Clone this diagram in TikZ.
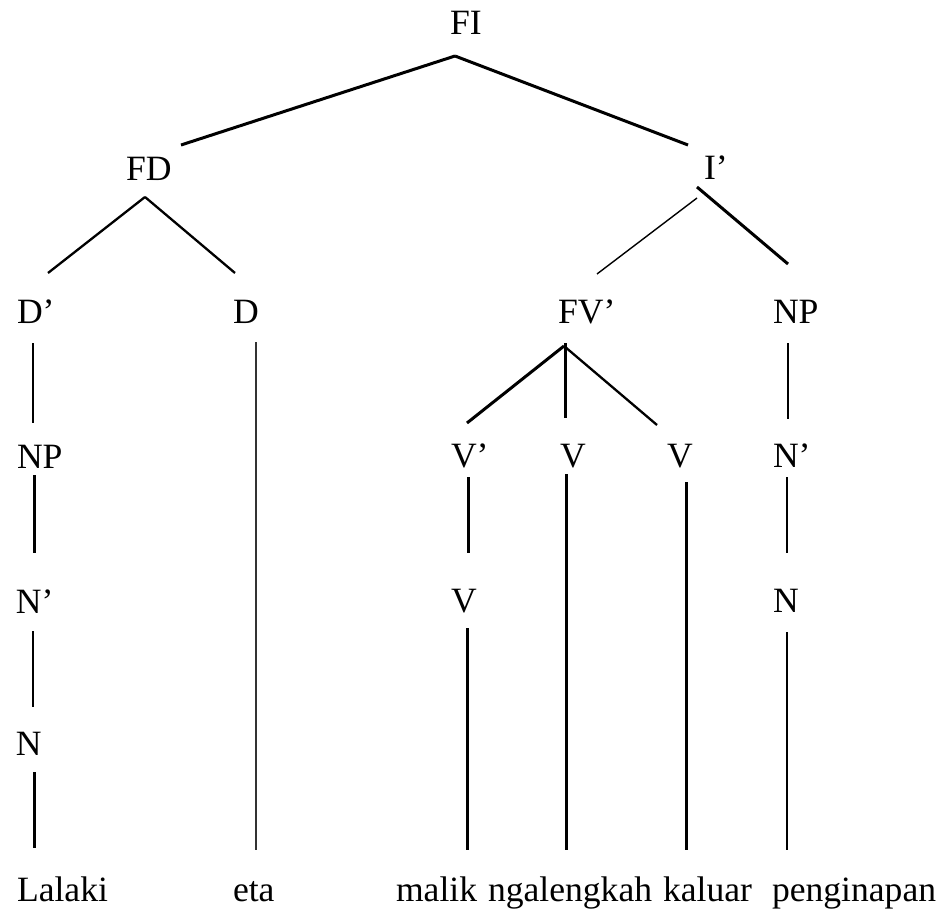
\documentclass[tikz,border=0pt]{standalone}
\usepackage{fontspec}
\setmainfont{Liberation Serif}
\begin{document}
\begin{tikzpicture}[x=1pt,y=-1pt,
  lbl/.style={inner sep=0pt, outer sep=0pt, anchor=base west, font=\fontsize{35.6}{42}\selectfont},
  thinedge/.style={line width=1.4pt, black},
  midedge/.style={line width=2.3pt, black},
  thickedge/.style={line width=3pt, black},
  grayedge/.style={line width=1.7pt, black!80}]
\fill[white] (0,0) rectangle (947,909);
\useasboundingbox (0,0) rectangle (947,909);

% category labels
\node[lbl] (fi)  at (450,35)  {FI};
\node[lbl] (fd)  at (126,181) {FD};
\node[lbl] (ib)  at (704,180) {I’};
\node[lbl] (db)  at (17,323)  {D’};
\node[lbl] (d)   at (233,323) {D};
\node[lbl] (fvb) at (558,323) {FV’};
\node[lbl] (npr) at (773,323) {NP};
\node[lbl] (npl) at (17,468)  {NP};
\node[lbl] (vb)  at (451,467) {V’};
\node[lbl] (vm)  at (560,467) {V};
\node[lbl] (vr)  at (667,467) {V};
\node[lbl] (nbr) at (773,467) {N’};
\node[lbl] (nbl) at (16,613)  {N’};
\node[lbl] (vl)  at (451,612) {V};
\node[lbl] (nr)  at (773,612) {N};
\node[lbl] (nl)  at (16,755)  {N};

% words
\node[lbl] (w1) at (17,901)  {Lalaki};
\node[lbl] (w2) at (233,901) {eta};
\node[lbl] (w3) at (396,901) {malik};
\node[lbl] (w4) at (488,901) {ngalengkah};
\node[lbl] (w5) at (663,901) {kaluar};
\node[lbl] (w6) at (772,901) {penginapan};

% branches
\draw[thickedge] ([shift={(5,21)}]fi.base west) -- ([shift={(55,-36)}]fd.base west);
\draw[thickedge] ([shift={(5,21)}]fi.base west) -- ([shift={(-16,-35)}]ib.base west);
\draw[midedge] ([shift={(19,16)}]fd.base west) -- ([shift={(31,-50)}]db.base west);
\draw[midedge] ([shift={(19,16)}]fd.base west) -- ([shift={(2,-50)}]d.base west);
\draw[thinedge] ([shift={(-7,18)}]ib.base west) -- ([shift={(39,-49)}]fvb.base west);
\draw[thickedge] ([shift={(-7,7)}]ib.base west) -- ([shift={(15,-59)}]npr.base west);
\draw[thinedge] ([shift={(16,20)}]db.base west) -- ([shift={(16,-45)}]npl.base west);
\draw[grayedge] ([shift={(23,19)}]d.base west) -- ([shift={(23,-51)}]w2.base west);
\draw[thickedge] ([shift={(6,23)}]fvb.base west) -- ([shift={(16,-44)}]vb.base west);
\draw[thickedge] ([shift={(7,20)}]fvb.base west) -- ([shift={(5,-49)}]vm.base west);
\draw[midedge] ([shift={(6,23)}]fvb.base west) -- ([shift={(-10,-42)}]vr.base west);
\draw[thinedge] ([shift={(15,20)}]npr.base west) -- ([shift={(15,-48)}]nbr.base west);
\draw[thickedge] ([shift={(17,7)}]npl.base west) -- ([shift={(18,-60)}]nbl.base west);
\draw[thickedge] ([shift={(17,10)}]vb.base west) -- ([shift={(17,-59)}]vl.base west);
\draw[thickedge] ([shift={(6,7)}]vm.base west) -- ([shift={(78,-51)}]w4.base west);
\draw[thickedge] ([shift={(19,15)}]vr.base west) -- ([shift={(23,-51)}]w5.base west);
\draw[thinedge] ([shift={(14,10)}]nbr.base west) -- ([shift={(14,-59)}]nr.base west);
\draw[thinedge] ([shift={(17,18)}]nbl.base west) -- ([shift={(17,-48)}]nl.base west);
\draw[thickedge] ([shift={(18,17)}]nl.base west) -- ([shift={(17,-53)}]w1.base west);
\draw[thickedge] ([shift={(16,16)}]vl.base west) -- ([shift={(71,-51)}]w3.base west);
\draw[thinedge] ([shift={(14,20)}]nr.base west) -- ([shift={(15,-51)}]w6.base west);
\end{tikzpicture}
\end{document}
